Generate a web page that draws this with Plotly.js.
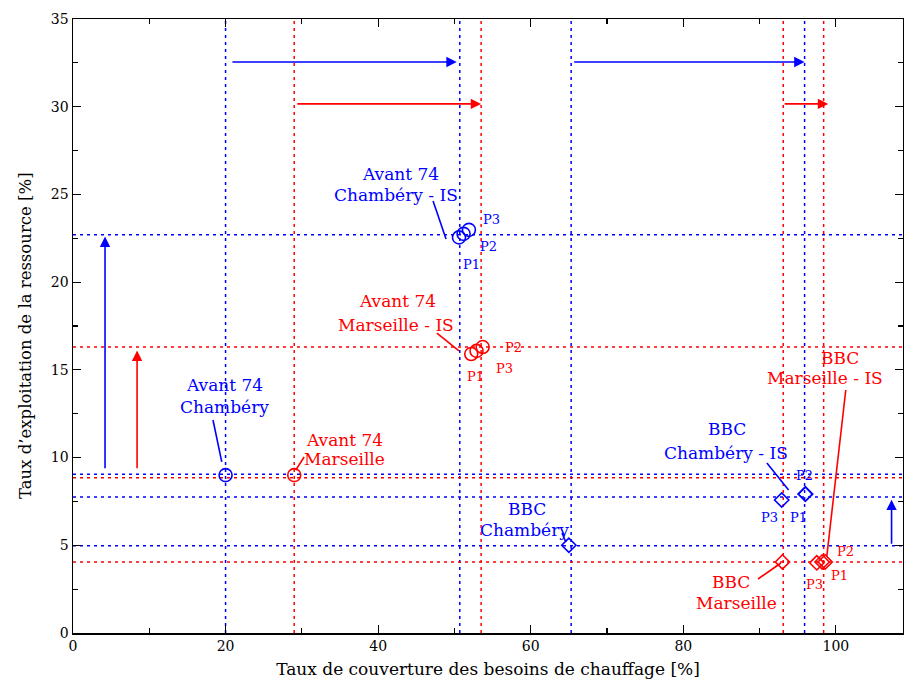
<!DOCTYPE html>
<html><head><meta charset="utf-8">
<script src="https://cdn.plot.ly/plotly-3.0.1.min.js"></script>
<style>html,body{margin:0;padding:0;background:#fff}#chart{width:904px;height:689px}</style>
</head><body><div id="chart"></div>
<script>
const BLUE = '#0000ff', RED = '#ff0000';

// Points
const a74ChbX = [20.0], a74ChbY = [9.0];
const a74MrsX = [29.0], a74MrsY = [9.0];
const a74ChbIsX = [50.6, 51.2, 51.9], a74ChbIsY = [22.55, 22.75, 22.98];
const a74MrsIsX = [52.2, 52.9, 53.7], a74MrsIsY = [15.9, 16.08, 16.3];
const bbcChbX = [65.0], bbcChbY = [5.0];
const bbcMrsX = [93.0], bbcMrsY = [4.05];
const bbcChbIsX = [96.0, 96.0, 92.9], bbcChbIsY = [7.92, 7.92, 7.58];
const bbcMrsIsX = [98.6, 98.2, 97.5], bbcMrsIsY = [4.05, 4.05, 4.0];

// Reference dotted lines
const vBlue = [20.0, 50.7, 65.3, 95.9];
const vRed = [29.0, 53.5, 93.1, 98.4];
const hBlue = [22.7, 9.05, 7.75, 4.97];
const hRed = [16.3, 8.85, 4.05];

// Arrows [x0, y0, x1, y1]
const arrowsBlue = [[20.7, 32.55, 50.3, 32.55], [65.5, 32.55, 95.9, 32.55], [4.2, 9.3, 4.2, 22.6], [107.3, 5.0, 107.3, 7.6]];
const arrowsRed = [[29.2, 30.16, 53.5, 30.16], [93.1, 30.16, 99.0, 30.16], [8.4, 9.3, 8.4, 16.1]];

// Label lines
const labText = ['Avant 74', 'Chambéry - IS', 'Avant 74', 'Marseille - IS', 'Avant 74', 'Chambéry', 'Avant 74', 'Marseille',
  'BBC', 'Chambéry', 'BBC', 'Chambéry - IS', 'BBC', 'Marseille - IS', 'BBC', 'Marseille'];
const labX = [42.87, 42.33, 42.6, 42.33, 19.92, 19.92, 35.65, 35.65, 59.5, 59.24, 85.71, 85.58, 100.5, 98.56, 86.24, 87.02];
const labY = [26.17, 24.97, 18.93, 17.56, 14.14, 12.88, 11.0, 9.92, 7.05, 5.88, 11.63, 10.26, 15.68, 14.54, 2.9, 1.7];
const labColor = [BLUE, BLUE, RED, RED, BLUE, BLUE, RED, RED, BLUE, BLUE, BLUE, BLUE, RED, RED, RED, RED];
// leader lines [x0,y0,x1,y1]
const leaders = [[47.2, 24.63, 48.9, 22.46], [47.7, 17.1, 50.6, 16.08], [18.35, 12.14, 19.5, 9.75], [30.3, 10.03, 29.2, 9.29],
  [64.1, 5.70, 64.6, 5.19], [90.96, 9.69, 93.8, 8.15], [101.3, 13.85, 98.8, 4.33], [89.8, 3.08, 92.8, 3.99]];
const leaderColor = [BLUE, RED, BLUE, RED, BLUE, BLUE, RED, RED];

// P labels
const pText = ['P1', 'P2', 'P3', 'P1', 'P2', 'P3', 'P3', 'P1', 'P2', 'P3', 'P1', 'P2'];
const pX = [52.2, 54.5, 54.8, 52.7, 57.8, 56.5, 91.35, 95.15, 95.9, 97.2, 100.5, 101.2];
const pY = [20.98, 22.06, 23.55, 14.6, 16.25, 15.05, 6.61, 6.61, 9.0, 2.74, 3.25, 4.62];
const pColor = [BLUE, BLUE, BLUE, RED, RED, RED, BLUE, BLUE, BLUE, RED, RED, RED];

const FONT = '"DejaVu Serif", serif';

function pts(x, y, color, symbol, size) {
  return {x: x, y: y, type: 'scatter', mode: 'markers', hoverinfo: 'skip',
    marker: {symbol: symbol, size: size, color: color, line: {color: color, width: 1.6}}};
}
const data = [
  pts(a74ChbX, a74ChbY, BLUE, 'circle-open', 13),
  pts(a74MrsX, a74MrsY, RED, 'circle-open', 13),
  pts(a74ChbIsX, a74ChbIsY, BLUE, 'circle-open', 13),
  pts(a74MrsIsX, a74MrsIsY, RED, 'circle-open', 13),
  pts(bbcChbX, bbcChbY, BLUE, 'diamond-open', 11),
  pts(bbcMrsX, bbcMrsY, RED, 'diamond-open', 11),
  pts(bbcChbIsX, bbcChbIsY, BLUE, 'diamond-open', 11),
  pts(bbcMrsIsX, bbcMrsIsY, RED, 'diamond-open', 11)
];

const shapes = [];
const dash = '3px,4px';
vBlue.forEach(v => shapes.push({type: 'line', xref: 'x', yref: 'paper', x0: v, x1: v, y0: 0, y1: 1, line: {color: BLUE, width: 1.5, dash: dash}, layer: 'below'}));
vRed.forEach(v => shapes.push({type: 'line', xref: 'x', yref: 'paper', x0: v, x1: v, y0: 0, y1: 1, line: {color: RED, width: 1.5, dash: dash}, layer: 'below'}));
hBlue.forEach(v => shapes.push({type: 'line', xref: 'paper', yref: 'y', x0: 0, x1: 1, y0: v, y1: v, line: {color: BLUE, width: 1.5, dash: dash}, layer: 'below'}));
hRed.forEach(v => shapes.push({type: 'line', xref: 'paper', yref: 'y', x0: 0, x1: 1, y0: v, y1: v, line: {color: RED, width: 1.5, dash: dash}, layer: 'below'}));
leaders.forEach((l, i) => shapes.push({type: 'line', xref: 'x', yref: 'y', x0: l[0], y0: l[1], x1: l[2], y1: l[3], line: {color: leaderColor[i], width: 1.6}}));

const annotations = [];
function arrow(a, color) {
  annotations.push({x: a[2], y: a[3], ax: a[0], ay: a[1], xref: 'x', yref: 'y', axref: 'x', ayref: 'y',
    text: '', showarrow: true, arrowhead: 2, arrowsize: 1.3, arrowwidth: 1.6, arrowcolor: color});
}
arrowsBlue.forEach(a => arrow(a, BLUE));
arrowsRed.forEach(a => arrow(a, RED));
labText.forEach((t, i) => annotations.push({x: labX[i], y: labY[i], xref: 'x', yref: 'y', text: t, showarrow: false,
  xanchor: 'center', yanchor: 'middle', font: {family: FONT, size: 17, color: labColor[i]}}));
pText.forEach((t, i) => annotations.push({x: pX[i], y: pY[i], xref: 'x', yref: 'y', text: t, showarrow: false,
  font: {family: FONT, size: 13, color: pColor[i]}}));
// y-axis title
annotations.push({xref: 'paper', yref: 'paper', x: -0.0578, y: 0.4837, xanchor: 'center', yanchor: 'middle', textangle: -90,
  showarrow: false, text: 'Taux d’exploitation de la ressource [%]', font: {family: FONT, size: 16.5, color: '#000'}});

const layout = {
  width: 904, height: 689,
  margin: {l: 73, r: 1, t: 19, b: 56},
  paper_bgcolor: '#fff', plot_bgcolor: '#fff',
  showlegend: false,
  font: {family: FONT, size: 14, color: '#000'},
  xaxis: {range: [0, 108.8], tickvals: [0, 20, 40, 60, 80, 100], ticks: 'inside', ticklen: 8, tickwidth: 1.2, tickcolor: '#000',
    minor: {tickvals: [10, 30, 50, 70, 90], ticks: 'inside', ticklen: 5, tickcolor: '#000'},
    showgrid: false, zeroline: false, showline: true, linecolor: '#000', linewidth: 1.5, mirror: 'ticks',
    tickfont: {family: FONT, size: 14}, title: {text: 'Taux de couverture des besoins de chauffage [%]', font: {family: FONT, size: 17}, standoff: 10}},
  yaxis: {range: [0, 35], tickvals: [0, 5, 10, 15, 20, 25, 30, 35], ticks: 'inside', ticklen: 8, tickwidth: 1.2, tickcolor: '#000',
    minor: {tickvals: [2.5, 7.5, 12.5, 17.5, 22.5, 27.5, 32.5], ticks: 'inside', ticklen: 5, tickcolor: '#000'},
    showgrid: false, zeroline: false, showline: true, linecolor: '#000', linewidth: 1.5, mirror: 'ticks',
    tickfont: {family: FONT, size: 14}},
  shapes: shapes,
  annotations: annotations
};
Plotly.newPlot('chart', data, layout, {displayModeBar: false, staticPlot: true});
</script></body></html>
